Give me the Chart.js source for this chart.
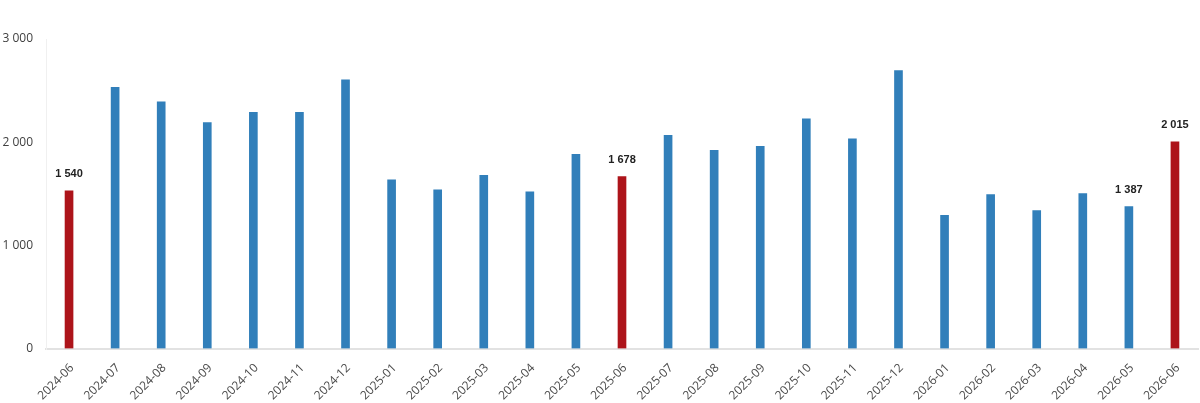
<!DOCTYPE html>
<html>
<head>
<meta charset="utf-8">
<script src="https://cdn.jsdelivr.net/npm/chart.js@4"></script>
<style>
  html, body { margin: 0; padding: 0; background: #fff; }
  #wrap { width: 1200px; height: 403px; position: relative; }
</style>
</head>
<body>
<div id="wrap"><canvas id="barChart"></canvas></div>
<script>
// data
var months = ['2024-06', '2024-07', '2024-08', '2024-09', '2024-10', '2024-11', '2024-12',
  '2025-01', '2025-02', '2025-03', '2025-04', '2025-05', '2025-06', '2025-07', '2025-08',
  '2025-09', '2025-10', '2025-11', '2025-12', '2026-01', '2026-02', '2026-03', '2026-04',
  '2026-05', '2026-06'];
var values = [1540, 2543, 2401, 2200, 2300, 2300, 2614,
  1646, 1549, 1691, 1530, 1894, 1678, 2078, 1933,
  1971, 2236, 2043, 2704, 1304, 1503, 1349, 1513,
  1387, 2015];
var highlighted = ['2024-06', '2025-06', '2026-06'];
var labelled = ['2024-06', '2025-06', '2026-05', '2026-06'];
var yTicks = [0, 1000, 2000, 3000];

function fmt(n) {
  return String(n).replace(/\B(?=(\d{3})+(?!\d))/g, ' ');
}

var barColors = months.map(function (m) {
  return highlighted.indexOf(m) >= 0 ? '#ad141a' : '#317fba';
});

// labels above selected bars
var valueLabels = {
  id: 'valueLabels',
  afterDatasetsDraw: function (chart) {
    var ctx = chart.ctx;
    var meta = chart.getDatasetMeta(0);
    ctx.save();
    ctx.font = 'bold 11px "Liberation Sans", Arial, sans-serif';
    ctx.fillStyle = '#222';
    ctx.textAlign = 'center';
    ctx.textBaseline = 'bottom';
    meta.data.forEach(function (bar, i) {
      if (labelled.indexOf(months[i]) < 0) return;
      ctx.fillText(fmt(values[i]), bar.x, bar.y - 10);
    });
    ctx.restore();
  }
};

var ctx = document.getElementById('barChart').getContext('2d');
var myChart = new Chart(ctx, {
  type: 'bar',
  data: {
    labels: months,
    datasets: [{
      data: values,
      backgroundColor: barColors,
      borderColor: 'rgba(255,255,255,0.35)',
      borderWidth: 1,
      barThickness: 10
    }]
  },
  options: {
    responsive: true,
    maintainAspectRatio: false,
    animation: false,
    layout: { padding: { top: 39, right: 2, left: 0, bottom: 0 } },
    plugins: {
      legend: { display: false },
      tooltip: { enabled: false }
    },
    scales: {
      x: {
        grid: { display: true, drawOnChartArea: false, drawTicks: false },
        border: { display: true, color: '#e2e2e2', width: 2 },
        ticks: {
          autoSkip: false,
          maxRotation: 45,
          minRotation: 45,
          padding: 12,
          labelOffset: 3,
          color: '#4a4a4a',
          font: { family: '"Open Sans", sans-serif', size: 12 }
        },
        afterFit: function (scale) { scale.height = 54; }
      },
      y: {
        min: 0,
        max: 3000,
        grid: { display: true, drawOnChartArea: false, drawTicks: false },
        border: { display: true, color: '#f0f0f0', width: 1 },
        afterBuildTicks: function (scale) {
          scale.ticks = yTicks.map(function (v) { return { value: v }; });
        },
        ticks: {
          padding: 13,
          color: '#404040',
          font: { family: '"Open Sans", sans-serif', size: 12 },
          callback: function (v) { return fmt(v); }
        },
        afterFit: function (scale) { scale.width = 46; }
      }
    }
  },
  plugins: [valueLabels]
});
</script>
</body>
</html>
